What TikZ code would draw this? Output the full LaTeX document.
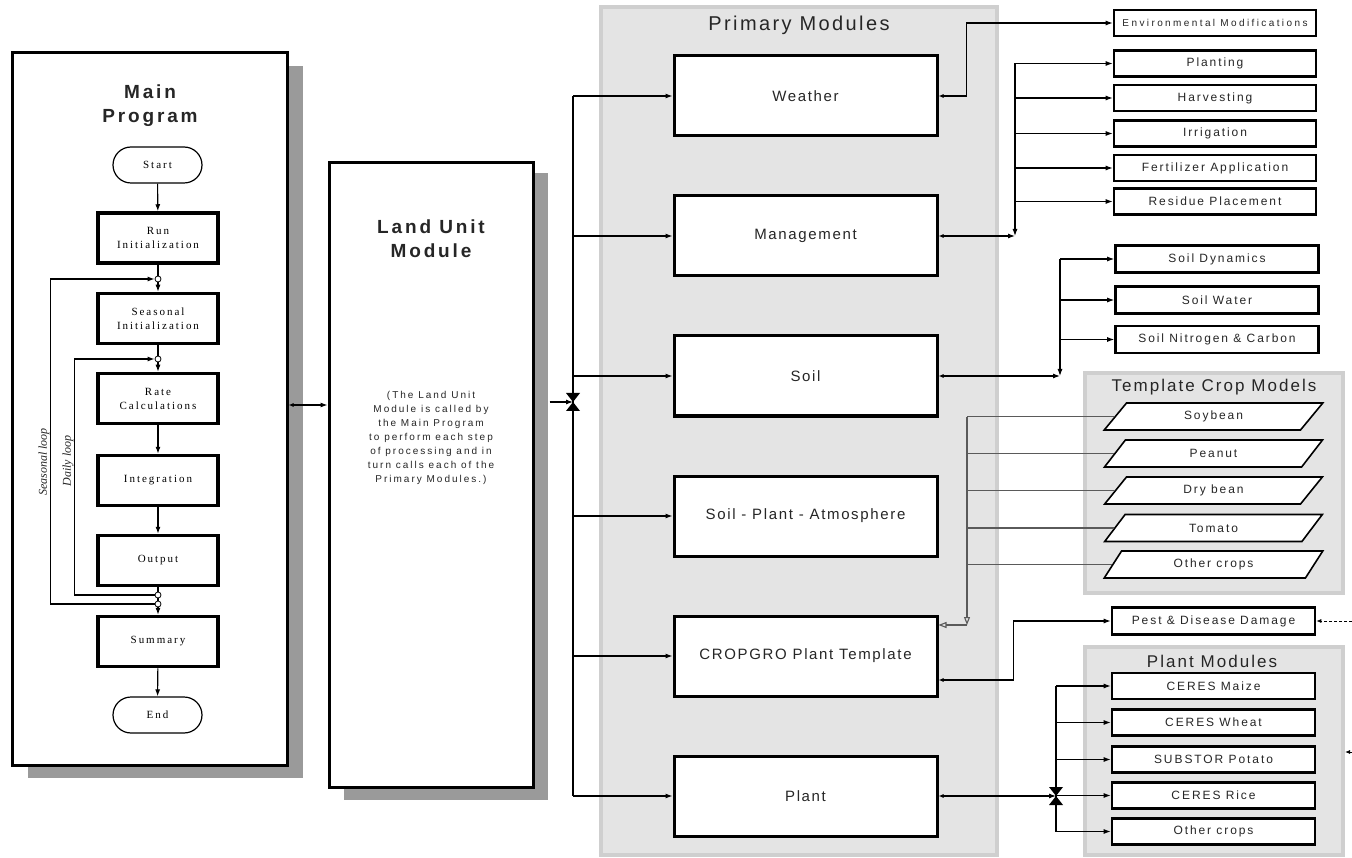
\documentclass[tikz,border=0pt]{standalone}
\usepackage{fontspec}
\setmainfont{Liberation Serif}
\newfontfamily\headfont[LetterSpace=15]{Liberation Sans}
\newfontfamily\panelfont[LetterSpace=12]{Liberation Sans}
\newfontfamily\boxfont[LetterSpace=11]{Liberation Sans}
\newfontfamily\smallfont[LetterSpace=16]{Liberation Sans}
\newfontfamily\widefont[LetterSpace=24]{Liberation Sans}
\newfontfamily\notefont[LetterSpace=20]{Liberation Sans}
\newfontfamily\flowfont[LetterSpace=18]{Liberation Serif}
\usetikzlibrary{arrows.meta,shapes.geometric}
\definecolor{panelfill}{HTML}{E4E4E4}
\definecolor{panelrim}{HTML}{CFCFCF}
\definecolor{shadowgray}{HTML}{9A9A9A}
\definecolor{inkgray}{HTML}{262626}
\definecolor{cropline}{HTML}{5A5A5A}

\begin{document}
\begin{tikzpicture}[
  x=1pt,
  y=-1pt,
  panel/.style={draw=panelrim,line width=4pt,fill=panelfill},
  dropshade/.style={fill=shadowgray},
  bigbox/.style={draw,line width=3pt,fill=white,inner sep=0pt},
  headtext/.style={align=center,text=inkgray,font=\headfont\bfseries\fontsize{19}{24}\selectfont},
  paneltitle/.style={text=inkgray,font=\panelfont\fontsize{17}{20}\selectfont},
  primbox/.style={draw,line width=3pt,fill=white,minimum width=263pt,minimum height=80pt,
    inner sep=0pt,text=inkgray,font=\boxfont\fontsize{15}{18}\selectfont},
  sidebox/.style={draw,line width=2.6pt,fill=white,minimum width=202pt,minimum height=26pt,
    inner sep=0pt,text=inkgray,font=\smallfont\fontsize{12}{14}\selectfont},
  cropbox/.style={trapezium,trapezium left angle=56,trapezium right angle=124,
    trapezium stretches=true,draw,line width=1.6pt,fill=white,minimum width=219pt,
    minimum height=27pt,inner sep=0pt,text=inkgray,font=\smallfont\fontsize{12}{14}\selectfont},
  flowbox/.style={draw,line width=3.5pt,fill=white,minimum width=120pt,minimum height=50pt,
    align=center,inner sep=0pt,font=\flowfont\fontsize{11}{14}\selectfont},
  terminal/.style={draw,line width=1.2pt,fill=white,rounded corners=18pt,minimum width=89pt,
    minimum height=36pt,inner sep=0pt,font=\flowfont\fontsize{11}{14}\selectfont},
  junction/.style={circle,draw,fill=white,line width=0.8pt,minimum size=6pt,inner sep=0pt},
  looptext/.style={rotate=90,text=inkgray,font=\itshape\fontsize{12}{14}\selectfont},
  link/.style={line width=1.1pt},
  flowarrow/.style={link,-{Latex[length=7pt,width=5pt]}},
  twoway/.style={link,{Latex[length=5pt,width=4pt]}-{Latex[length=7pt,width=5pt]}},
  cropfeed/.style={draw=cropline,line width=1.1pt},
  opentip/.style={-{Triangle[open,length=8pt,width=6pt]}}
]
  \useasboundingbox (0,0) rectangle (1352,858);

  % Grey panels behind the module groups.
  \path[panel] (601,7) rectangle (997,855);
  \path[panel] (1085,373) rectangle (1343,593);
  \path[panel] (1085,647) rectangle (1343,855);
  \node[paneltitle,font=\panelfont\fontsize{20}{24}\selectfont] (primtitle) at (799,25) {Primary Modules};
  \node[paneltitle] (croptitle) at (1214,387) {Template Crop Models};
  \node[paneltitle] (planttitle) at (1212,661) {Plant Modules};

  % Main program frame and its flowchart.
  \fill[dropshade] (28,66) rectangle (303,778);
  \node[bigbox,minimum width=275pt,minimum height=712pt] (mainprog) at (149.5,409) {};
  \node[headtext] (maintitle) at (150,106) {Main\\Program};
  \node[terminal] (start) at (157.5,165) {Start};
  \node[flowbox] (runinit) at (158,238) {Run\\Initialization};
  \node[junction] (jone) at (158,279) {};
  \node[flowbox] (seasinit) at (158,318.5) {Seasonal\\Initialization};
  \node[junction] (jtwo) at (158,359) {};
  \node[flowbox] (rate) at (158,398.5) {Rate\\Calculations};
  \node[flowbox] (integ) at (158,480.5) {Integration};
  \node[flowbox] (output) at (158,560.5) {Output};
  \node[junction] (jthree) at (158,595) {};
  \node[junction] (jfour) at (158,604) {};
  \node[flowbox] (summary) at (158,641.5) {Summary};
  \node[terminal] (finish) at (157.5,715) {End};

  \draw[flowarrow] (start) -- (runinit);
  \draw[link] (runinit) -- (jone);
  \draw[flowarrow] (jone) -- (seasinit);
  \draw[link] (seasinit) -- (jtwo);
  \draw[flowarrow] (jtwo) -- (rate);
  \draw[flowarrow] (rate) -- (integ);
  \draw[flowarrow] (integ) -- (output);
  \draw[link] (output) -- (jthree);
  \draw[link] (jthree) -- (jfour);
  \draw[flowarrow] (jfour) -- (summary);
  \draw[flowarrow] (summary) -- (finish);
  \draw[flowarrow] (jthree.west) -- ++(-80,0) |- (jtwo.west);
  \draw[flowarrow] (jfour.west) -- ++(-104,0) |- (jone.west);
  \node[looptext] (seasloop) at (44,462) {Seasonal loop};
  \node[looptext] (dailyloop) at (68,461) {Daily loop};

  % Land unit module.
  \fill[dropshade] (344,173) rectangle (548,800);
  \node[bigbox,minimum width=204pt,minimum height=624pt] (landunit) at (431,475) {};
  \node[headtext] (landtitle) at (431,239) {Land Unit\\Module};
  \node[align=center,text=inkgray,font=\notefont\fontsize{10}{14}\selectfont] (landnote) at (431,438)
    {(The Land Unit\\Module is called by\\the Main Program\\to perform each step\\of processing and in\\turn calls each of the\\Primary Modules.)};
  \coordinate (mlrow) at (0,405);
  \draw[twoway] (mainprog.east |- mlrow) -- (landunit.west |- mlrow);

  % Primary modules.
  \node[primbox] (weather) at (805.5,96) {Weather};
  \node[primbox] (management) at (805.5,236) {Management};
  \node[primbox] (soil) at (805.5,376) {Soil};
  \node[primbox] (spa) at (805.5,516) {Soil - Plant - Atmosphere};
  \node[primbox] (cropgro) at (805.5,656) {CROPGRO Plant Template};
  \node[primbox] (plant) at (805.5,796) {Plant};

  \coordinate (hub) at (573,402);
  \draw[flowarrow] ([xshift=15pt]landunit.east |- hub) -- (hub);
  \draw[link] (hub |- weather.west) -- (hub |- plant.west);
  \foreach \m in {weather,management,soil,spa,cropgro,plant} {
    \draw[flowarrow] (hub |- \m.west) -- (\m.west);
  }
  \fill (566,393) -- (580,393) -- (hub) -- cycle;
  \fill (566,411) -- (580,411) -- (hub) -- cycle;

  % Weather and management side boxes.
  \node[sidebox,font=\widefont\fontsize{10}{12}\selectfont] (envmod) at (1215,23) {Environmental Modifications};
  \node[sidebox] (planting) at (1215,63.5) {Planting};
  \node[sidebox] (harvesting) at (1215,98) {Harvesting};
  \node[sidebox] (irrigation) at (1215,133.5) {Irrigation};
  \node[sidebox] (fertilizer) at (1215,168) {Fertilizer Application};
  \node[sidebox] (residue) at (1215,201.5) {Residue Placement};
  \draw[twoway] (weather.east) -- ++(28,0) |- (envmod.west);

  \coordinate (mgmtjoin) at (1015,236);
  \draw[twoway] (management.east) -- (mgmtjoin);
  \draw[flowarrow] (mgmtjoin |- planting.west) -- (mgmtjoin);
  \foreach \b in {planting,harvesting,irrigation,fertilizer,residue} {
    \draw[flowarrow] (mgmtjoin |- \b.west) -- (\b.west);
  }

  % Soil side boxes.
  \node[sidebox,minimum width=203pt,minimum height=27pt] (soildyn) at (1217,259) {Soil Dynamics};
  \node[sidebox,minimum width=203pt,minimum height=27pt] (soilwater) at (1217,300) {Soil Water};
  \node[sidebox,minimum width=203pt,minimum height=27pt] (soilnc) at (1217,339.5) {Soil Nitrogen \& Carbon};
  \coordinate (soiljoin) at (1060,376);
  \draw[twoway] (soil.east) -- (soiljoin);
  \draw[flowarrow] (soiljoin |- soildyn.west) -- (soiljoin);
  \foreach \b in {soildyn,soilwater,soilnc} {
    \draw[flowarrow] (soiljoin |- \b.west) -- (\b.west);
  }

  % Template crop models feed the CROPGRO template.
  \node[cropbox] (soybean) at (1213.5,416.5) {Soybean};
  \node[cropbox] (peanut) at (1213.5,453.5) {Peanut};
  \node[cropbox] (drybean) at (1213.5,490.5) {Dry bean};
  \node[cropbox] (tomato) at (1213.5,528) {Tomato};
  \node[cropbox] (othertemp) at (1213.5,564.5) {Other crops};
  \coordinate (cropjoin) at (967,625);
  \foreach \c in {soybean,peanut,drybean,tomato,othertemp} {
    \draw[cropfeed] (\c.left side) -- (cropjoin |- \c.left side);
  }
  \draw[cropfeed,opentip] (cropjoin |- soybean.left side) -- (cropjoin);
  \draw[cropfeed,opentip] (cropjoin) -- (cropgro.east |- cropjoin);

  % Pest and disease damage.
  \node[sidebox,minimum width=203pt,minimum height=27pt] (pest) at (1213.5,621) {Pest \& Disease Damage};
  \coordinate (pestrow) at (0,680);
  \draw[twoway] (cropgro.east |- pestrow) -- ++(75,0) |- (pest.west);
  \coordinate (pestfeed) at (1352,621);
  \draw[line width=0.8pt,densely dashed,-{Latex[length=5pt,width=4pt]}] (pestfeed) -- (pest.east);

  % Plant modules.
  \node[sidebox,minimum width=203pt] (maize) at (1213.5,686) {CERES Maize};
  \node[sidebox,minimum width=203pt] (wheat) at (1213.5,722.5) {CERES Wheat};
  \node[sidebox,minimum width=203pt] (potato) at (1213.5,759.5) {SUBSTOR Potato};
  \node[sidebox,minimum width=203pt] (rice) at (1213.5,795.5) {CERES Rice};
  \node[sidebox,minimum width=203pt] (otherplant) at (1213.5,831.5) {Other crops};
  \coordinate (plantjoin) at (1056,796);
  \draw[twoway] (plant.east) -- (plantjoin);
  \draw[link] (plantjoin |- maize.west) -- (plantjoin |- otherplant.west);
  \foreach \b in {maize,wheat,potato,rice,otherplant} {
    \draw[flowarrow] (plantjoin |- \b.west) -- (\b.west);
  }
  \fill (1049,787) -- (1063,787) -- (plantjoin) -- cycle;
  \fill (1049,805) -- (1063,805) -- (plantjoin) -- cycle;
  \coordinate (plantfeed) at (1352,752);
  \coordinate (plantrim) at (1345,752);
  \draw[line width=0.8pt,densely dashed,-{Latex[length=5pt,width=4pt]}] (plantfeed) -- (plantrim);
\end{tikzpicture}
\end{document}
